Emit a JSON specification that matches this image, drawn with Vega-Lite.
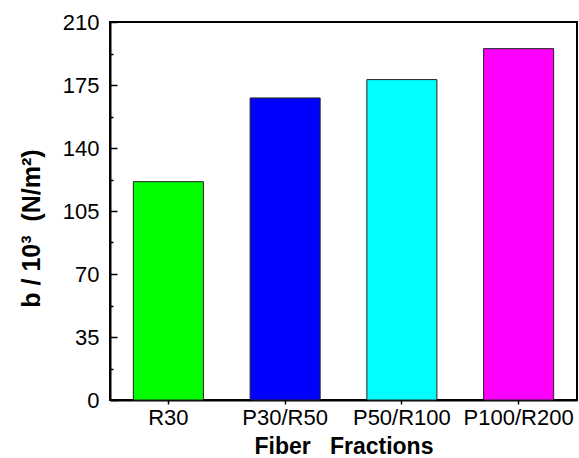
{
  "$schema": "https://vega.github.io/schema/vega-lite/v6.json",
  "width": 467,
  "height": 378,
  "autosize": "none",
  "padding": {"left": 110, "top": 22, "right": 2, "bottom": 58},
  "background": "white",
  "config": {
    "view": {"stroke": "black", "strokeWidth": 2},
    "font": "Liberation Sans",
    "axis": {"labelFont": "Liberation Sans", "titleFont": "Liberation Sans", "labelColor": "black", "titleColor": "black", "domainColor": "black", "tickColor": "black", "domainWidth": 2, "tickWidth": 1.5, "grid": false}
  },
  "data": {
    "values": [
      {"fraction": "R30", "b": 121.3},
      {"fraction": "P30/R50", "b": 167.8},
      {"fraction": "P50/R100", "b": 178},
      {"fraction": "P100/R200", "b": 195.2}
    ]
  },
  "mark": {"type": "bar", "stroke": "#222222", "strokeWidth": 1},
  "encoding": {
    "x": {
      "field": "fraction",
      "type": "nominal",
      "sort": ["R30", "P30/R50", "P50/R100", "P100/R200"],
      "scale": {"paddingInner": 0.4, "paddingOuter": 0.2},
      "axis": {
        "title": "Fiber\u00a0\u00a0\u00a0Fractions",
        "labelAngle": 0,
        "labelFontSize": 22,
        "titleFontSize": 23,
        "titleFontWeight": "bold",
        "tickSize": 4,
        "labelPadding": 3,
        "titlePadding": 7
      }
    },
    "y": {
      "field": "b",
      "type": "quantitative",
      "scale": {"domain": [0, 210], "nice": false},
      "axis": {
        "title": "b / 10³\u00a0\u00a0(N/m²)",
        "titleFontSize": 25,
        "titleFontWeight": "bold",
        "titleY": 206,
        "labelFontSize": 22,
        "values": [0, 17.5, 35, 52.5, 70, 87.5, 105, 122.5, 140, 157.5, 175, 192.5, 210],
        "labelExpr": "datum.value % 35 === 0 ? datum.label : ''",
        "tickSize": {"condition": {"test": "datum.value % 35 === 0", "value": -7}, "value": -3},
        "labelPadding": 18,
        "titlePadding": 18
      }
    },
    "color": {
      "field": "fraction",
      "type": "nominal",
      "sort": ["R30", "P30/R50", "P50/R100", "P100/R200"],
      "scale": {"range": ["#00FF00", "#0000FF", "#00FFFF", "#FF00FF"]},
      "legend": null
    }
  }
}
